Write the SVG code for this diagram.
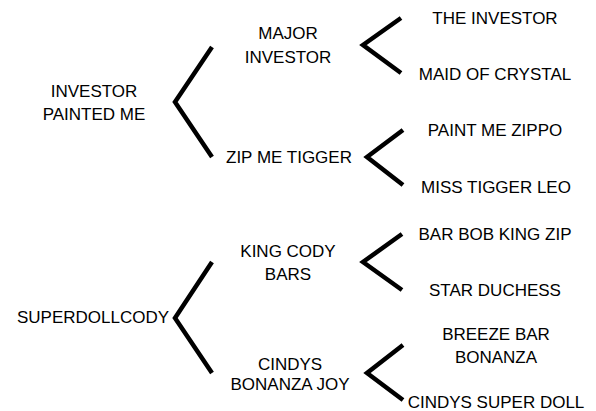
<svg xmlns="http://www.w3.org/2000/svg" width="596" height="411" viewBox="0 0 596 411">
<style>
text{font-family:"Liberation Sans",Arial,sans-serif;font-size:17px;fill:#000;text-anchor:middle}
.br{fill:none;stroke:#000;stroke-width:4.5;stroke-linejoin:miter;stroke-linecap:butt}
</style>
<rect width="596" height="411" fill="#fff"/>
<g id="connectors">
<polyline class="br" points="212,47 175,102 212,157"/>
<polyline class="br" points="401,18 363,45 401,73"/>
<polyline class="br" points="403,130 367,157 403,185"/>
<polyline class="br" points="212,262 175,318 212,373"/>
<polyline class="br" points="402,234 363,262 402,290"/>
<polyline class="br" points="403,345 367,373 403,400"/>
</g>
<g id="investor-painted-me"><text x="94" y="97">INVESTOR</text><text x="94" y="120">PAINTED ME</text></g>
<g id="major-investor"><text x="288" y="39">MAJOR</text><text x="288" y="63">INVESTOR</text></g>
<g id="zip-me-tigger"><text x="289" y="163">ZIP ME TIGGER</text></g>
<g id="the-investor"><text x="495" y="24">THE INVESTOR</text></g>
<g id="maid-of-crystal"><text x="495" y="80">MAID OF CRYSTAL</text></g>
<g id="paint-me-zippo"><text x="495" y="136">PAINT ME ZIPPO</text></g>
<g id="miss-tigger-leo"><text x="496" y="193">MISS TIGGER LEO</text></g>
<g id="superdollcody"><text x="93" y="323">SUPERDOLLCODY</text></g>
<g id="king-cody-bars"><text x="288" y="257">KING CODY</text><text x="288" y="280">BARS</text></g>
<g id="cindys-bonanza-joy"><text x="290" y="370">CINDYS</text><text x="290" y="390">BONANZA JOY</text></g>
<g id="bar-bob-king-zip"><text x="495" y="240">BAR BOB KING ZIP</text></g>
<g id="star-duchess"><text x="495" y="296">STAR DUCHESS</text></g>
<g id="breeze-bar-bonanza"><text x="496" y="340">BREEZE BAR</text><text x="496" y="363">BONANZA</text></g>
<g id="cindys-super-doll"><text x="496" y="408">CINDYS SUPER DOLL</text></g>
</svg>
